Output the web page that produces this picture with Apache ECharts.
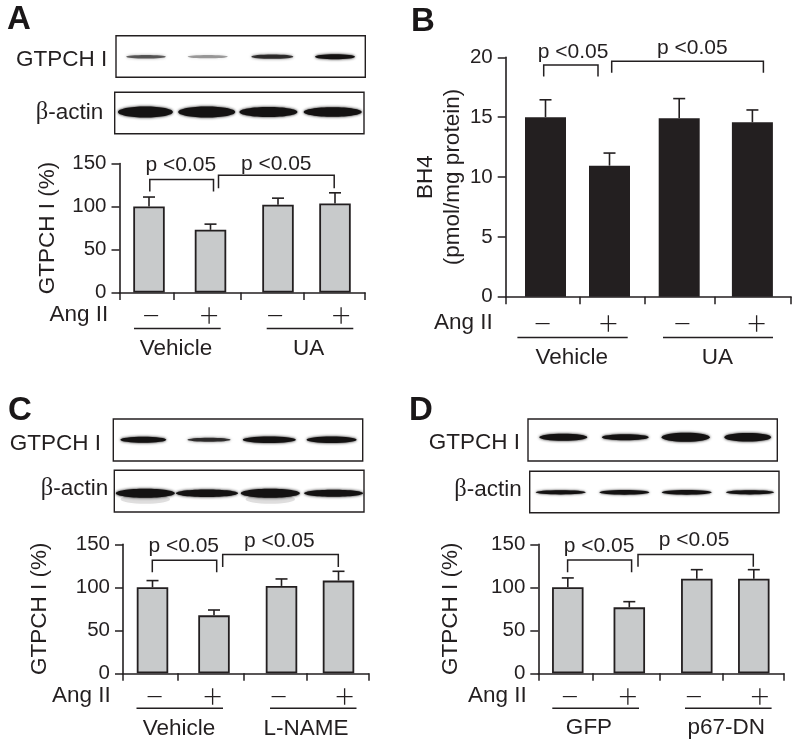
<!DOCTYPE html>
<html><head><meta charset="utf-8">
<style>html,body{margin:0;padding:0;background:#fff}#c{width:800px;height:749px}</style>
<script src="https://cdn.jsdelivr.net/npm/echarts@6/dist/echarts.min.js"></script>
</head><body><div id="c"></div>
<script>
// ---- data ----
const signLabels = ['\u2212', '+', '\u2212', '+'];
const yTicksPercent = [0, 50, 100, 150];
const yTicksBH4 = [0, 5, 10, 15, 20];

const panelAValues = [100, 72.9, 102, 103.5];
const panelAErrors = [11, 6.6, 7.7, 12.4];
const panelAGroups = ['Vehicle', 'UA'];
const panelBValues = [15.0, 10.95, 14.9, 14.57];
const panelBErrors = [1.45, 1.05, 1.65, 1.03];
const panelBGroups = ['Vehicle', 'UA'];
const panelCValues = [100, 67.4, 101.6, 107.8];
const panelCErrors = [7.8, 6.2, 8.1, 10.8];
const panelCGroups = ['Vehicle', 'L-NAME'];
const panelDValues = [100, 76.7, 110, 110];
const panelDErrors = [10.9, 6.6, 10.5, 10.5];
const panelDGroups = ['GFP', 'p67-DN'];
const significance = 'p <0.05';

// band darkness per lane, read from the blots
const blotAGtpch = [0.62, 0.38, 0.8, 1];
const blotAActin = [1, 1, 1, 1];
const blotCGtpch = [1, 0.8, 1, 1];
const blotCActin = [1, 1, 1, 1];
const blotDGtpch = [1, 1, 1, 1];
const blotDActin = [1, 1, 1, 1];

// ---- layout & style (axis units on x are px from the y axis) ----
const INK = '#231f20', GREY = '#c8cacb', FONT = '"Liberation Sans", Arial, sans-serif';
const narrow = {len: 245.5, bars: [29.5, 91, 158.5, 215.5], ticks: [0, 54.5, 121, 184, 245.5], signs: [31.5, 89.5, 155.5, 221.5], barW: 31.5};
const wide = {len: 285.3, bars: [39.8, 103.8, 173.5, 246.7], ticks: [0, 73.7, 138.7, 208.7, 285.3], signs: [37, 102.7, 176.7, 251], barW: 41};

const panels = [
  {values: panelAValues, errors: panelAErrors, groups: panelAGroups, geo: narrow, left: 119.5, y0: 292.5, height: 129, max: 150, interval: 50, ticks: yTicksPercent,
   name: 'GTPCH I (%)', nameGap: 58, fill: GREY, border: 1.8, signMargin: 6.5,
   brackets: [[30.3, 94, 131.4, 117.4, 117.4, 61.3, 148], [99, 214.7, 136.4, 121.3, 121.3, 156.7, 149]],
   groupLines: [[14.5, 101.2, 56.5], [147.2, 233.8, 189.2]], lineDy: 36, textDy: 56},
  {values: panelBValues, errors: panelBErrors, groups: panelBGroups, geo: wide, left: 505.7, y0: 296.7, height: 239.4, max: 20, interval: 5, ticks: yTicksBH4,
   name: 'BH4\n(pmol/mg protein)', nameGap: 35, fill: INK, border: 0, signMargin: 10.5,
   brackets: [[38, 92.3, 19.36, 18.4, 18.4, 67.3, 20.4], [106, 257.7, 19.67, 18.7, 18.7, 186.7, 20.8]],
   groupLines: [[11.7, 122, 66], [157.3, 267.3, 211.7]], lineDy: 40.7, textDy: 60.7},
  {values: panelCValues, errors: panelCErrors, groups: panelCGroups, geo: narrow, left: 123, y0: 673.3, height: 129, max: 150, interval: 50, ticks: yTicksPercent,
   name: 'GTPCH I (%)', nameGap: 70, fill: GREY, border: 1.8, signMargin: 6.5,
   brackets: [[29.3, 93.7, 131.4, 117.4, 117.4, 60.7, 147.7], [99.7, 215.3, 138, 123.6, 123.6, 156.3, 153.9]],
   groupLines: [[13.5, 100, 56], [147, 233.5, 183]], lineDy: 35, textDy: 55.7},
  {values: panelDValues, errors: panelDErrors, groups: panelDGroups, geo: narrow, left: 538.3, y0: 673.3, height: 129, max: 150, interval: 50, ticks: yTicksPercent,
   name: 'GTPCH I (%)', nameGap: 74, fill: GREY, border: 1.8, signMargin: 6.5,
   brackets: [[29.3, 93.3, 131.8, 117.4, 117.4, 60.7, 147.3], [99.7, 215, 138, 124, 124, 155.7, 154.3]],
   groupLines: [[14, 100.7, 50.7], [146.7, 233.3, 188]], lineDy: 35, textDy: 54.8}
];

// blot boxes: lane centres, widths, band thickness relative to the box
const blots = [
  {dark: blotAGtpch, x: 116, y: 35.7, w: 249.3, h: 41.6, cy: 21, centers: [30, 91.7, 156.3, 219], widths: [40, 40, 42, 40], thick: [3.6, 3.2, 4.2, 5], blur: 3},
  {dark: blotAActin, x: 114.7, y: 92.3, w: 249.3, h: 41.4, cy: 19.7, centers: [30.7, 92, 153.7, 218], widths: [55, 57, 58, 58], thick: [11, 11, 10, 9.5], blur: 3},
  {dark: blotCGtpch, x: 113.3, y: 419, w: 249.4, h: 42, cy: 20.7, centers: [30, 95.7, 156, 218.3], widths: [46, 43, 53, 50], thick: [6, 4, 6.5, 6.5], blur: 3},
  {dark: blotCActin, x: 114.3, y: 470.3, w: 249.7, h: 41.7, cy: 23, centers: [31, 92.7, 156, 219.3], widths: [59, 62, 59, 59], thick: [9, 7.5, 9, 7], blur: 3, smear: [1, 0, 1, 0]},
  {dark: blotDGtpch, x: 528, y: 419, w: 249.3, h: 42, cy: 18.3, centers: [35.3, 97.3, 157.7, 219.7], widths: [48, 47, 48, 47], thick: [7, 6, 9, 8.5], blur: 3},
  {dark: blotDActin, x: 529.7, y: 471.3, w: 249.3, h: 41.4, cy: 21, centers: [31, 94.7, 157, 220.3], widths: [50, 50, 50, 48], thick: [4.2, 4.8, 4.8, 4.2], blur: 2.5}
];

const textLabels = [
  {t: 'A', x: 7, y: 20, size: 33, bold: true, align: 'left'},
  {t: 'B', x: 411, y: 21.7, size: 33, bold: true, align: 'left'},
  {t: 'C', x: 8, y: 411, size: 33, bold: true, align: 'left'},
  {t: 'D', x: 409, y: 411, size: 33, bold: true, align: 'left'},
  {t: 'GTPCH I', x: 107.3, y: 60, size: 22.5},
  {t: '{b|\u03b2}-actin', x: 103.3, y: 112.7, size: 22.5},
  {t: 'GTPCH I', x: 101, y: 443.3, size: 22.5},
  {t: '{b|\u03b2}-actin', x: 108.3, y: 488.3, size: 22.5},
  {t: 'GTPCH I', x: 520, y: 442.3, size: 22.5},
  {t: '{b|\u03b2}-actin', x: 521.7, y: 490, size: 22.5},
  {t: 'Ang II', x: 108.3, y: 314.3, size: 22.5},
  {t: 'Ang II', x: 492.7, y: 322.7, size: 22.5},
  {t: 'Ang II', x: 110.7, y: 695.7, size: 22.5},
  {t: 'Ang II', x: 526.7, y: 695.7, size: 22.5}
];

// ---- build options ----
const grids = [], xAxes = [], yAxes = [], series = [];

panels.forEach(function (p) {
  const i = grids.length, g = p.geo;
  grids.push({left: p.left, top: p.y0 - p.height, width: g.len, height: p.height});
  xAxes.push({
    type: 'value', gridIndex: i, min: 0, max: g.len, splitLine: {show: false},
    axisLine: {show: true, onZero: false, lineStyle: {color: INK, width: 1.6}},
    axisTick: {show: true, length: 7.5, customValues: g.ticks, lineStyle: {color: INK, width: 1.5}},
    axisLabel: {show: true, customValues: g.signs, margin: p.signMargin, fontFamily: '"Lato", "Liberation Sans", sans-serif', fontWeight: 300, fontSize: 34, color: INK, hideOverlap: false,
      formatter: function (v, idx) { return signLabels[g.signs.indexOf(v)]; }}
  });
  yAxes.push({
    type: 'value', gridIndex: i, min: 0, max: p.max, interval: p.interval, splitLine: {show: false},
    name: p.name, nameLocation: 'middle', nameGap: p.nameGap, nameRotate: 90,
    nameTextStyle: {fontFamily: FONT, fontSize: 22.5, color: INK, lineHeight: 27},
    axisLine: {show: true, lineStyle: {color: INK, width: 1.6}},
    axisTick: {show: true, length: 8, lineStyle: {color: INK, width: 1.5}},
    axisLabel: {margin: 13, fontFamily: FONT, fontSize: 20.5, color: INK, showMinLabel: true, showMaxLabel: true}
  });
  series.push({
    type: 'bar', xAxisIndex: i, yAxisIndex: i, barWidth: g.barW, silent: true, z: 3,
    data: p.values.map(function (v, k) { return [g.bars[k], v]; }),
    itemStyle: {color: p.fill, borderColor: INK, borderWidth: p.border}
  });
  series.push({
    type: 'custom', xAxisIndex: i, yAxisIndex: i, silent: true, z: 2, encode: {x: 0, y: 1},
    data: p.values.map(function (v, k) { return [g.bars[k], v, p.errors[k]]; }),
    renderItem: function (params, api) {
      const x = api.value(0), v = api.value(1), e = api.value(2);
      const a = api.coord([x, v]), b = api.coord([x, v + e]);
      const st = {stroke: INK, lineWidth: 1.6, fill: 'none'};
      return {type: 'group', children: [
        {type: 'line', shape: {x1: a[0], y1: a[1], x2: b[0], y2: b[1]}, style: st},
        {type: 'line', shape: {x1: b[0] - 6, y1: b[1], x2: b[0] + 6, y2: b[1]}, style: st}
      ]};
    }
  });
  series.push({
    type: 'custom', xAxisIndex: i, yAxisIndex: i, silent: true, z: 4, encode: {x: 0, y: 2},
    data: p.brackets,
    renderItem: function (params, api) {
      const x1 = api.value(0), x2 = api.value(1), top = api.value(2), b1 = api.value(3), b2 = api.value(4), tx = api.value(5), ty = api.value(6);
      const pts = [api.coord([x1, b1]), api.coord([x1, top]), api.coord([x2, top]), api.coord([x2, b2])];
      const t = api.coord([tx, ty]);
      return {type: 'group', children: [
        {type: 'polyline', shape: {points: pts}, style: {stroke: INK, lineWidth: 1.5, fill: 'none'}},
        {type: 'text', style: {text: significance, x: t[0], y: t[1], align: 'center', verticalAlign: 'middle', fontFamily: FONT, fontSize: 21, fill: INK}}
      ]};
    }
  });
  series.push({
    type: 'custom', xAxisIndex: i, yAxisIndex: i, silent: true, z: 4, encode: {x: 0, y: 3},
    data: p.groupLines.map(function (r) { return [r[0], r[1], r[2], 0]; }),
    renderItem: function (params, api) {
      const a = api.coord([api.value(0), 0]), b = api.coord([api.value(1), 0]), c = api.coord([api.value(2), 0]);
      return {type: 'group', children: [
        {type: 'line', shape: {x1: a[0], y1: a[1] + p.lineDy, x2: b[0], y2: a[1] + p.lineDy}, style: {stroke: INK, lineWidth: 1.5}},
        {type: 'text', style: {text: p.groups[params.dataIndex], x: c[0], y: c[1] + p.textDy, align: 'center', verticalAlign: 'middle', fontFamily: FONT, fontSize: 22.5, fill: INK}}
      ]};
    }
  });
});

blots.forEach(function (b) {
  const i = grids.length;
  grids.push({left: b.x, top: b.y, width: b.w, height: b.h, show: true, backgroundColor: '#fff', borderColor: INK, borderWidth: 1.4});
  xAxes.push({type: 'value', gridIndex: i, min: 0, max: b.w, show: false});
  yAxes.push({type: 'value', gridIndex: i, min: 0, max: b.h, inverse: true, show: false});
  series.push({
    type: 'custom', xAxisIndex: i, yAxisIndex: i, silent: true, z: 3, encode: {x: 0, y: 1},
    data: b.dark.map(function (d, k) { return [b.centers[k], b.cy, d]; }),
    renderItem: function (params, api) {
      const k = params.dataIndex, c = api.coord([api.value(0), api.value(1)]), d = api.value(2);
      const col = 'rgba(20,18,18,' + d + ')';
      const band = {type: 'ellipse', shape: {cx: c[0], cy: c[1], rx: b.widths[k] / 2, ry: b.thick[k] / 2},
        style: {fill: col, shadowBlur: b.blur, shadowColor: col}};
      if (!b.smear || !b.smear[k]) return band;
      return {type: 'group', children: [
        {type: 'ellipse', shape: {cx: c[0], cy: c[1] + 6, rx: b.widths[k] * 0.42, ry: 4.5},
          style: {fill: 'rgba(20,18,18,0.13)', shadowBlur: 5, shadowColor: 'rgba(20,18,18,0.13)'}},
        band
      ]};
    }
  });
});

const graphicText = textLabels.map(function (l) {
  return {type: 'text', x: l.x, y: l.y, silent: true, z: 10, style: {
    text: l.t, align: l.align || 'right', verticalAlign: 'middle',
    fontFamily: FONT, fontSize: l.size, fontWeight: l.bold ? 'bold' : 'normal', fill: l.bold ? '#1a1718' : INK,
    rich: {b: {fontFamily: '"Liberation Serif", serif', fontSize: l.size + 2, fill: INK}}
  }};
});

const chart = echarts.init(document.getElementById('c'), null, {renderer: 'canvas'});
chart.setOption({
  animation: false, backgroundColor: '#fff',
  grid: grids, xAxis: xAxes, yAxis: yAxes, series: series,
  graphic: {elements: graphicText}
});
</script></body></html>
